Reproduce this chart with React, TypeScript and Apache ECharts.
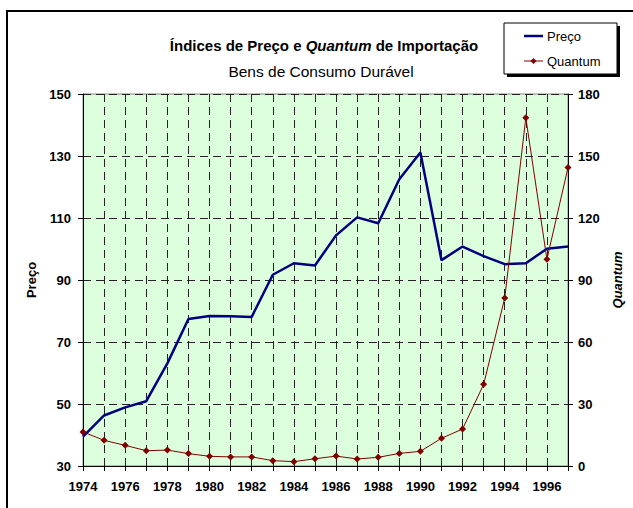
import React, { useEffect, useRef } from "react";
import * as echarts from "echarts";

const years = ["1974","1975","1976","1977","1978","1979","1980","1981","1982","1983","1984","1985","1986","1987","1988","1989","1990","1991","1992","1993","1994","1995","1996","1997"];
const preco = [39.5, 46.3, 48.9, 50.9, 63.1, 77.4, 78.4, 78.3, 78.1, 91.7, 95.4, 94.7, 104.4, 110.2, 108.3, 122.5, 131.1, 96.4, 100.8, 97.7, 95.1, 95.4, 100.1, 100.8];
const quantum = [16.5, 12.4, 10.0, 7.4, 7.7, 6.0, 4.7, 4.4, 4.4, 2.6, 2.1, 3.5, 4.8, 3.4, 4.2, 6.1, 7.1, 13.4, 17.9, 39.5, 81.3, 168.5, 100.0, 144.4];
const seriesNames = ["Preço", "Quantum"];
const titleText = "Índices de Preço e {i|Quantum} de Importação";
const subtitleText = "Bens de Consumo Durável";

const FONT = "'Liberation Sans', Arial, sans-serif";
const BLUE = "#000080";
const RED = "#800000";

export default function App() {
  const ref = useRef<HTMLDivElement>(null);
  useEffect(() => {
    if (!ref.current) return;
    const chart = echarts.init(ref.current, null, { renderer: "svg" });
    const dashed = { color: "#222", width: 1, type: [8, 5] as any };
    chart.setOption({
      animation: false,
      backgroundColor: "#fff",
      textStyle: { fontFamily: FONT },
      graphic: [
        {
          type: "rect",
          z: 0,
          shape: { x: 7, y: 11, width: 640, height: 510 },
          style: { fill: "none", stroke: "#000", lineWidth: 2 },
        },
        {
          type: "text",
          z: 5,
          x: 324,
          y: 45,
          style: {
            text: titleText,
            fill: "#000",
            fontFamily: FONT,
            fontWeight: "bold",
            fontSize: 15,
            align: "center",
            verticalAlign: "middle",
            rich: {
              i: { fontStyle: "italic", fontWeight: "bold", fontSize: 15, fontFamily: FONT, fill: "#000" },
            },
          },
        },
        {
          type: "text",
          z: 5,
          x: 321,
          y: 71,
          style: {
            text: subtitleText,
            fill: "#000",
            fontFamily: FONT,
            fontSize: 15.5,
            align: "center",
            verticalAlign: "middle",
          },
        },
        {
          type: "rect",
          z: 1,
          shape: { x: 507, y: 26, width: 113, height: 51 },
          style: { fill: "#000" },
        },
        {
          type: "rect",
          z: 2,
          shape: { x: 504, y: 23, width: 113, height: 51 },
          style: { fill: "#fff", stroke: "#000", lineWidth: 1 },
        },
        {
          type: "line",
          z: 3,
          shape: { x1: 524, y1: 36, x2: 543, y2: 36 },
          style: { stroke: BLUE, lineWidth: 2.5 },
        },
        {
          type: "text",
          z: 3,
          x: 547,
          y: 36,
          style: { text: seriesNames[0], fill: "#000", fontFamily: FONT, fontSize: 13, verticalAlign: "middle" },
        },
        {
          type: "line",
          z: 3,
          shape: { x1: 524, y1: 61, x2: 543, y2: 61 },
          style: { stroke: RED, lineWidth: 1 },
        },
        {
          type: "polygon",
          z: 4,
          shape: { points: [[533.5, 58], [536.5, 61], [533.5, 64], [530.5, 61]] },
          style: { fill: RED },
        },
        {
          type: "text",
          z: 3,
          x: 547,
          y: 61,
          style: { text: seriesNames[1], fill: "#000", fontFamily: FONT, fontSize: 13, verticalAlign: "middle" },
        },
      ],
      grid: {
        left: 83,
        right: 65,
        top: 94,
        bottom: 42,
        show: true,
        backgroundColor: "#ddfedd",
        borderColor: "#888",
        borderWidth: 1,
      },
      xAxis: {
        type: "category",
        data: years,
        boundaryGap: false,
        axisLine: { lineStyle: { color: "#000", width: 1 } },
        axisTick: { interval: 0, length: 5, lineStyle: { color: "#000" } },
        axisLabel: { interval: 1, margin: 14, fontSize: 13, fontWeight: "bold", color: "#000", fontFamily: FONT },
        splitLine: { show: true, interval: 0, lineStyle: dashed },
      },
      yAxis: [
        {
          type: "value",
          min: 30,
          max: 150,
          interval: 20,
          name: seriesNames[0],
          nameLocation: "middle",
          nameGap: 43,
          nameRotate: 90,
          nameTextStyle: { fontSize: 13, fontWeight: "bold", color: "#000", fontFamily: FONT },
          axisLine: { show: true, lineStyle: { color: "#000", width: 1 } },
          axisTick: { show: true, length: 5, lineStyle: { color: "#000" } },
          axisLabel: { margin: 12, fontSize: 13, fontWeight: "bold", color: "#000", fontFamily: FONT },
          splitLine: { show: true, lineStyle: dashed },
        },
        {
          type: "value",
          min: 0,
          max: 180,
          interval: 30,
          position: "right",
          name: seriesNames[1],
          nameLocation: "middle",
          nameGap: 37,
          nameRotate: 90,
          nameTextStyle: { fontSize: 13, fontWeight: "bold", fontStyle: "italic", color: "#000", fontFamily: FONT },
          axisLine: { show: true, lineStyle: { color: "#000", width: 1 } },
          axisTick: { show: true, length: 5, lineStyle: { color: "#000" } },
          axisLabel: { margin: 10, fontSize: 13, fontWeight: "bold", color: "#000", fontFamily: FONT },
          splitLine: { show: false },
        },
      ],
      series: [
        {
          name: seriesNames[0],
          type: "line",
          yAxisIndex: 0,
          data: preco,
          symbol: "none",
          lineStyle: { color: BLUE, width: 2.5 },
          itemStyle: { color: BLUE },
          z: 3,
        },
        {
          name: seriesNames[1],
          type: "line",
          yAxisIndex: 1,
          data: quantum,
          symbol: "diamond",
          symbolSize: 7,
          lineStyle: { color: RED, width: 1 },
          itemStyle: { color: RED },
          z: 4,
        },
      ],
    });
    return () => chart.dispose();
  }, []);
  return (
    <div
      ref={ref}
      style={{ position: "absolute", left: 0, top: 0, width: 633, height: 508 }}
    />
  );
}
